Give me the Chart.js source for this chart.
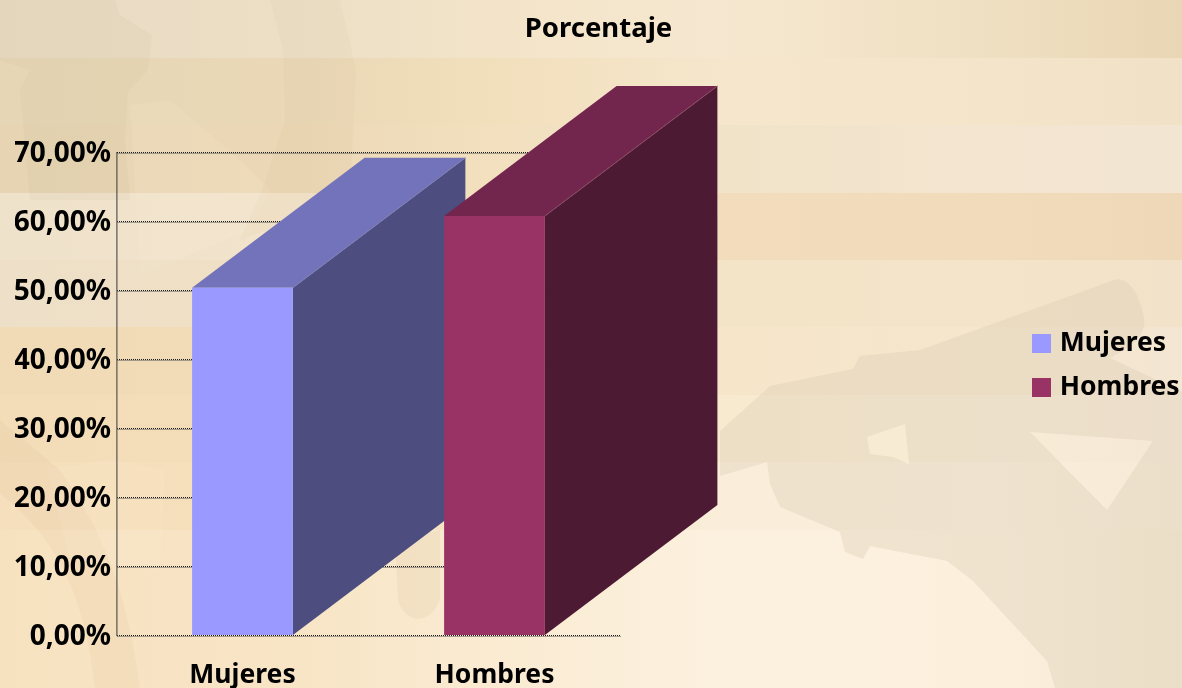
<!DOCTYPE html>
<html lang="es">
<head>
<meta charset="utf-8">
<title>Porcentaje</title>
<style>
html,body{margin:0;padding:0;width:1182px;height:688px;overflow:hidden;background:#f6e6cc}
#bg{position:absolute;left:0;top:0}
#c{position:absolute;left:0;top:0}
</style>
<script src="https://cdn.jsdelivr.net/npm/chart.js@4"></script>
</head>
<body>
<svg id="bg" width="1182" height="688" xmlns="http://www.w3.org/2000/svg"></svg>
<canvas id="c" width="1182" height="688"></canvas>
<script>
const categories = ['Mujeres', 'Hombres'];
const seriesNames = ['Mujeres', 'Hombres'];
const mujeresValues = [50.4, null];
const hombresValues = [null, 60.8];
const frontColors = ['#9999ff', '#993366'];
const topColors = ['#7373bb', '#73264d'];
const sideColors = ['#4d4d7f', '#4d1a33'];
const edgeColors = ['#7f7fb5', '#8a4a68'];
const yTicks = [0, 10, 20, 30, 40, 50, 60, 70];
const chartTitle = 'Porcentaje';

// decorative paper background
const bandStops = [0, 300, 500, 720, 1000, 1182];
const bands = [
  [0, 58, '#e8dbc3', '#ecdfc6', '#f3e4c9', '#f6e8d0', '#efdfc1', '#e9d6b4'],
  [58, 125, '#e6d6b6', '#ead8b6', '#f2dfbc', '#f5e6cc', '#f3e4ca', '#f0e1c7'],
  [125, 193, '#e6d4b3', '#ecd8b6', '#f2e0bf', '#f1e3c8', '#f3e5d0', '#f2e5d2'],
  [193, 260, '#efe2cb', '#f2e3cb', '#f3dfbd', '#f3dcbb', '#f1dbba', '#eed8b8'],
  [260, 327, '#eee0c8', '#efdfc4', '#f2dfc0', '#f3e3c7', '#f4e4c9', '#f1e2c9'],
  [327, 395, '#f1dbb7', '#f2dcb8', '#f3e0c2', '#f6e5c9', '#f5e6cd', '#f3e6d2'],
  [395, 462, '#f3dcb8', '#f4ddb8', '#f5e2c4', '#f8eacf', '#f8ecd6', '#f5e8d6'],
  [462, 530, '#f5dfbc', '#f6dfbb', '#f8e6c8', '#faeeda', '#fbefdc', '#f6ead6'],
  [530, 688, '#f7e2c0', '#f8e5c6', '#faebd2', '#fcf1df', '#fcf0dd', '#f5e9d2']
];
const darkArm = 'M1117,279 C1130,279 1140,295 1144,318 C1146,335 1135,345 1110,358 L1182,392 L1182,688 L1055,688 L1047,661 L973,581 L947,561 L870,546 L863,559 L845,552 L840,532 L780,507 L770,484 L767,462 L720,476 L720,431 L770,386 L853,369 L860,356 L920,350 Z ' +
  'M1030,432 L1153,441 L1107,510 Z ' +
  'M867,437 L905,424 L909,464 L893,457 L870,454 Z';
const softShapes = [
  ['M0,0 L115,0 L120,15 L152,35 L148,70 L128,92 L125,140 L130,200 L30,200 L20,90 L30,70 L0,60 Z', '#b8a27c', 0.08],
  ['M270,0 L283,50 L285,120 L262,190 L240,240 L350,200 L356,70 L340,0 Z', '#c8ac80', 0.07],
  ['M130,105 L140,275 L250,230 L270,190 L240,160 L170,100 Z', '#fff6e2', 0.10],
  ['M0,494 C60,540 85,600 95,688 L140,688 C130,610 110,540 60,470 L0,420 Z', '#d6b98c', 0.12],
  ['M48,470 L110,459 L165,470 L160,570 L70,560 Z', '#fff4dd', 0.10],
  ['M395,540 L440,530 L440,600 C430,625 405,625 398,600 Z', '#d6b98c', 0.16]
];
const svgNS = 'http://www.w3.org/2000/svg';
const bg = document.getElementById('bg');
const defs = document.createElementNS(svgNS, 'defs');
bg.appendChild(defs);
bands.forEach((b, i) => {
  const g = document.createElementNS(svgNS, 'linearGradient');
  g.setAttribute('id', 'b' + i);
  g.setAttribute('gradientUnits', 'userSpaceOnUse');
  g.setAttribute('x1', 0); g.setAttribute('x2', 1182); g.setAttribute('y1', 0); g.setAttribute('y2', 0);
  bandStops.forEach((x, k) => {
    const s = document.createElementNS(svgNS, 'stop');
    s.setAttribute('offset', x / 1182);
    s.setAttribute('stop-color', b[k + 2]);
    g.appendChild(s);
  });
  defs.appendChild(g);
  const r = document.createElementNS(svgNS, 'rect');
  r.setAttribute('x', 0); r.setAttribute('y', b[0]); r.setAttribute('width', 1182); r.setAttribute('height', b[1] - b[0]);
  r.setAttribute('fill', 'url(#b' + i + ')');
  bg.appendChild(r);
});
function addPath(d, fill, op, rule) {
  const p = document.createElementNS(svgNS, 'path');
  p.setAttribute('d', d); p.setAttribute('fill', fill); p.setAttribute('fill-opacity', op);
  if (rule) p.setAttribute('fill-rule', rule);
  bg.appendChild(p);
}
softShapes.forEach(s => addPath(s[0], s[1], s[2]));
addPath(darkArm, '#d8cab4', 0.34, 'evenodd');

const FONT = '"Noto Sans", sans-serif';
const DEPTH_X = 172.5, DEPTH_Y = 130;
const LINE_DARK = '#1c1c1c', LINE_SOFT = '#555555';

const box3d = {
  id: 'box3d',
  beforeDatasetDraw(chart, args) {
    const ctx = chart.ctx, i = args.index, vals = chart.data.datasets[i].data;
    args.meta.data.forEach((el, j) => {
      if (vals[j] == null) return;
      const l = el.x - el.width / 2, r = el.x + el.width / 2, t = el.y, b = el.base;
      const poly = (pts, c) => {
        ctx.beginPath();
        pts.forEach((p, k) => k ? ctx.lineTo(p[0], p[1]) : ctx.moveTo(p[0], p[1]));
        ctx.closePath(); ctx.fillStyle = c; ctx.fill();
      };
      ctx.save();
      poly([[l, t], [r, t], [r + DEPTH_X, t - DEPTH_Y], [l + DEPTH_X, t - DEPTH_Y]], topColors[i]);
      poly([[r, t], [r + DEPTH_X, t - DEPTH_Y], [r + DEPTH_X, b - DEPTH_Y], [r, b]], sideColors[i]);
      ctx.strokeStyle = edgeColors[i]; ctx.lineWidth = 1;
      ctx.beginPath();
      ctx.moveTo(r, t); ctx.lineTo(r + DEPTH_X, t - DEPTH_Y);
      ctx.stroke();
      ctx.restore();
    });
  }
};

// second row of the checkered rule lines, the left axis, and the label nudge
const ruleLines = {
  id: 'ruleLines',
  beforeDraw(chart) {
    chart.scales.y.getLabelItems(chart.chartArea).forEach(it => {
      if (!it._moved) { it.options.translation[1] += 2; it._moved = true; }
    });
  },
  beforeDatasetsDraw(chart) {
    const ctx = chart.ctx, a = chart.chartArea, ys = chart.scales.y;
    ctx.save();
    ctx.lineWidth = 1;
    ctx.setLineDash([1, 1]);
    ctx.strokeStyle = LINE_SOFT;
    ctx.lineDashOffset = 1;
    yTicks.forEach(v => {
      const y = Math.round(ys.getPixelForValue(v) - 0.5) + 1.5;
      ctx.beginPath(); ctx.moveTo(a.left, y); ctx.lineTo(a.right, y); ctx.stroke();
    });
    [[116.5, LINE_DARK, 0], [117.5, LINE_SOFT, 1]].forEach(([x, c, off]) => {
      ctx.strokeStyle = c; ctx.lineDashOffset = off;
      ctx.beginPath(); ctx.moveTo(x, a.top); ctx.lineTo(x, a.bottom + 1); ctx.stroke();
    });
    ctx.restore();
  }
};

const legendPlacer = {
  id: 'legendPlacer',
  beforeLayout(chart) {
    const lg = chart.legend;
    if (lg && !lg._wrapped) {
      const fit = lg.fit;
      lg.fit = function () { fit.call(this); this.width = 561.5; };
      lg._wrapped = true;
    }
  },
  afterLayout(chart) {
    const lg = chart.legend, h = lg.height;
    lg.left = 1019; lg.right = 1182; lg.top = 312.75; lg.bottom = 312.75 + h;
    lg.adjustHitBoxes();
  }
};

new Chart(document.getElementById('c'), {
  type: 'bar',
  plugins: [box3d, ruleLines, legendPlacer],
  data: {
    labels: categories,
    datasets: [
      { label: seriesNames[0], data: mujeresValues, backgroundColor: frontColors[0], order: 1 },
      { label: seriesNames[1], data: hombresValues, backgroundColor: frontColors[1], order: 0 }
    ]
  },
  options: {
    responsive: false,
    animation: false,
    layout: { padding: { left: 15, top: 0, right: 0, bottom: 0 } },
    datasets: { bar: { grouped: false, barPercentage: 0.4, categoryPercentage: 1 } },
    scales: {
      x: {
        afterFit(s) { s.height = 52.5; },
        grid: { display: false },
        border: { display: false },
        ticks: { color: '#000', font: { family: FONT, weight: 'bold', size: 26.5 }, padding: 16, maxRotation: 0 }
      },
      y: {
        min: 0, max: 70,
        afterFit(s) { s.width = 101.5; },
        afterBuildTicks(s) { s.ticks = yTicks.map(v => ({ value: v })); },
        grid: { color: LINE_DARK, lineWidth: 1, drawTicks: false, tickLength: 0 },
        border: { display: false, dash: [1, 1] },
        ticks: {
          color: '#000', padding: 5.5,
          font: { family: FONT, weight: 'bold', size: 28 },
          callback: v => v.toFixed(2).replace('.', ',') + '%'
        }
      }
    },
    plugins: {
      tooltip: { enabled: false },
      title: {
        display: true, text: chartTitle, color: '#000',
        font: { family: FONT, weight: 'bold', size: 27.5 },
        padding: { top: 12.5, bottom: 107 }
      },
      legend: {
        position: 'right', align: 'start',
        labels: {
          color: '#000', font: { family: FONT, weight: 'bold', size: 26.5 },
          boxWidth: 10, boxHeight: 10, padding: 17.5,
          generateLabels: () => seriesNames.map((n, i) => ({
            text: n, fillStyle: frontColors[i], strokeStyle: frontColors[i],
            lineWidth: 9, lineJoin: 'miter', datasetIndex: i, fontColor: '#000'
          }))
        }
      }
    }
  }
});
</script>
</body>
</html>
